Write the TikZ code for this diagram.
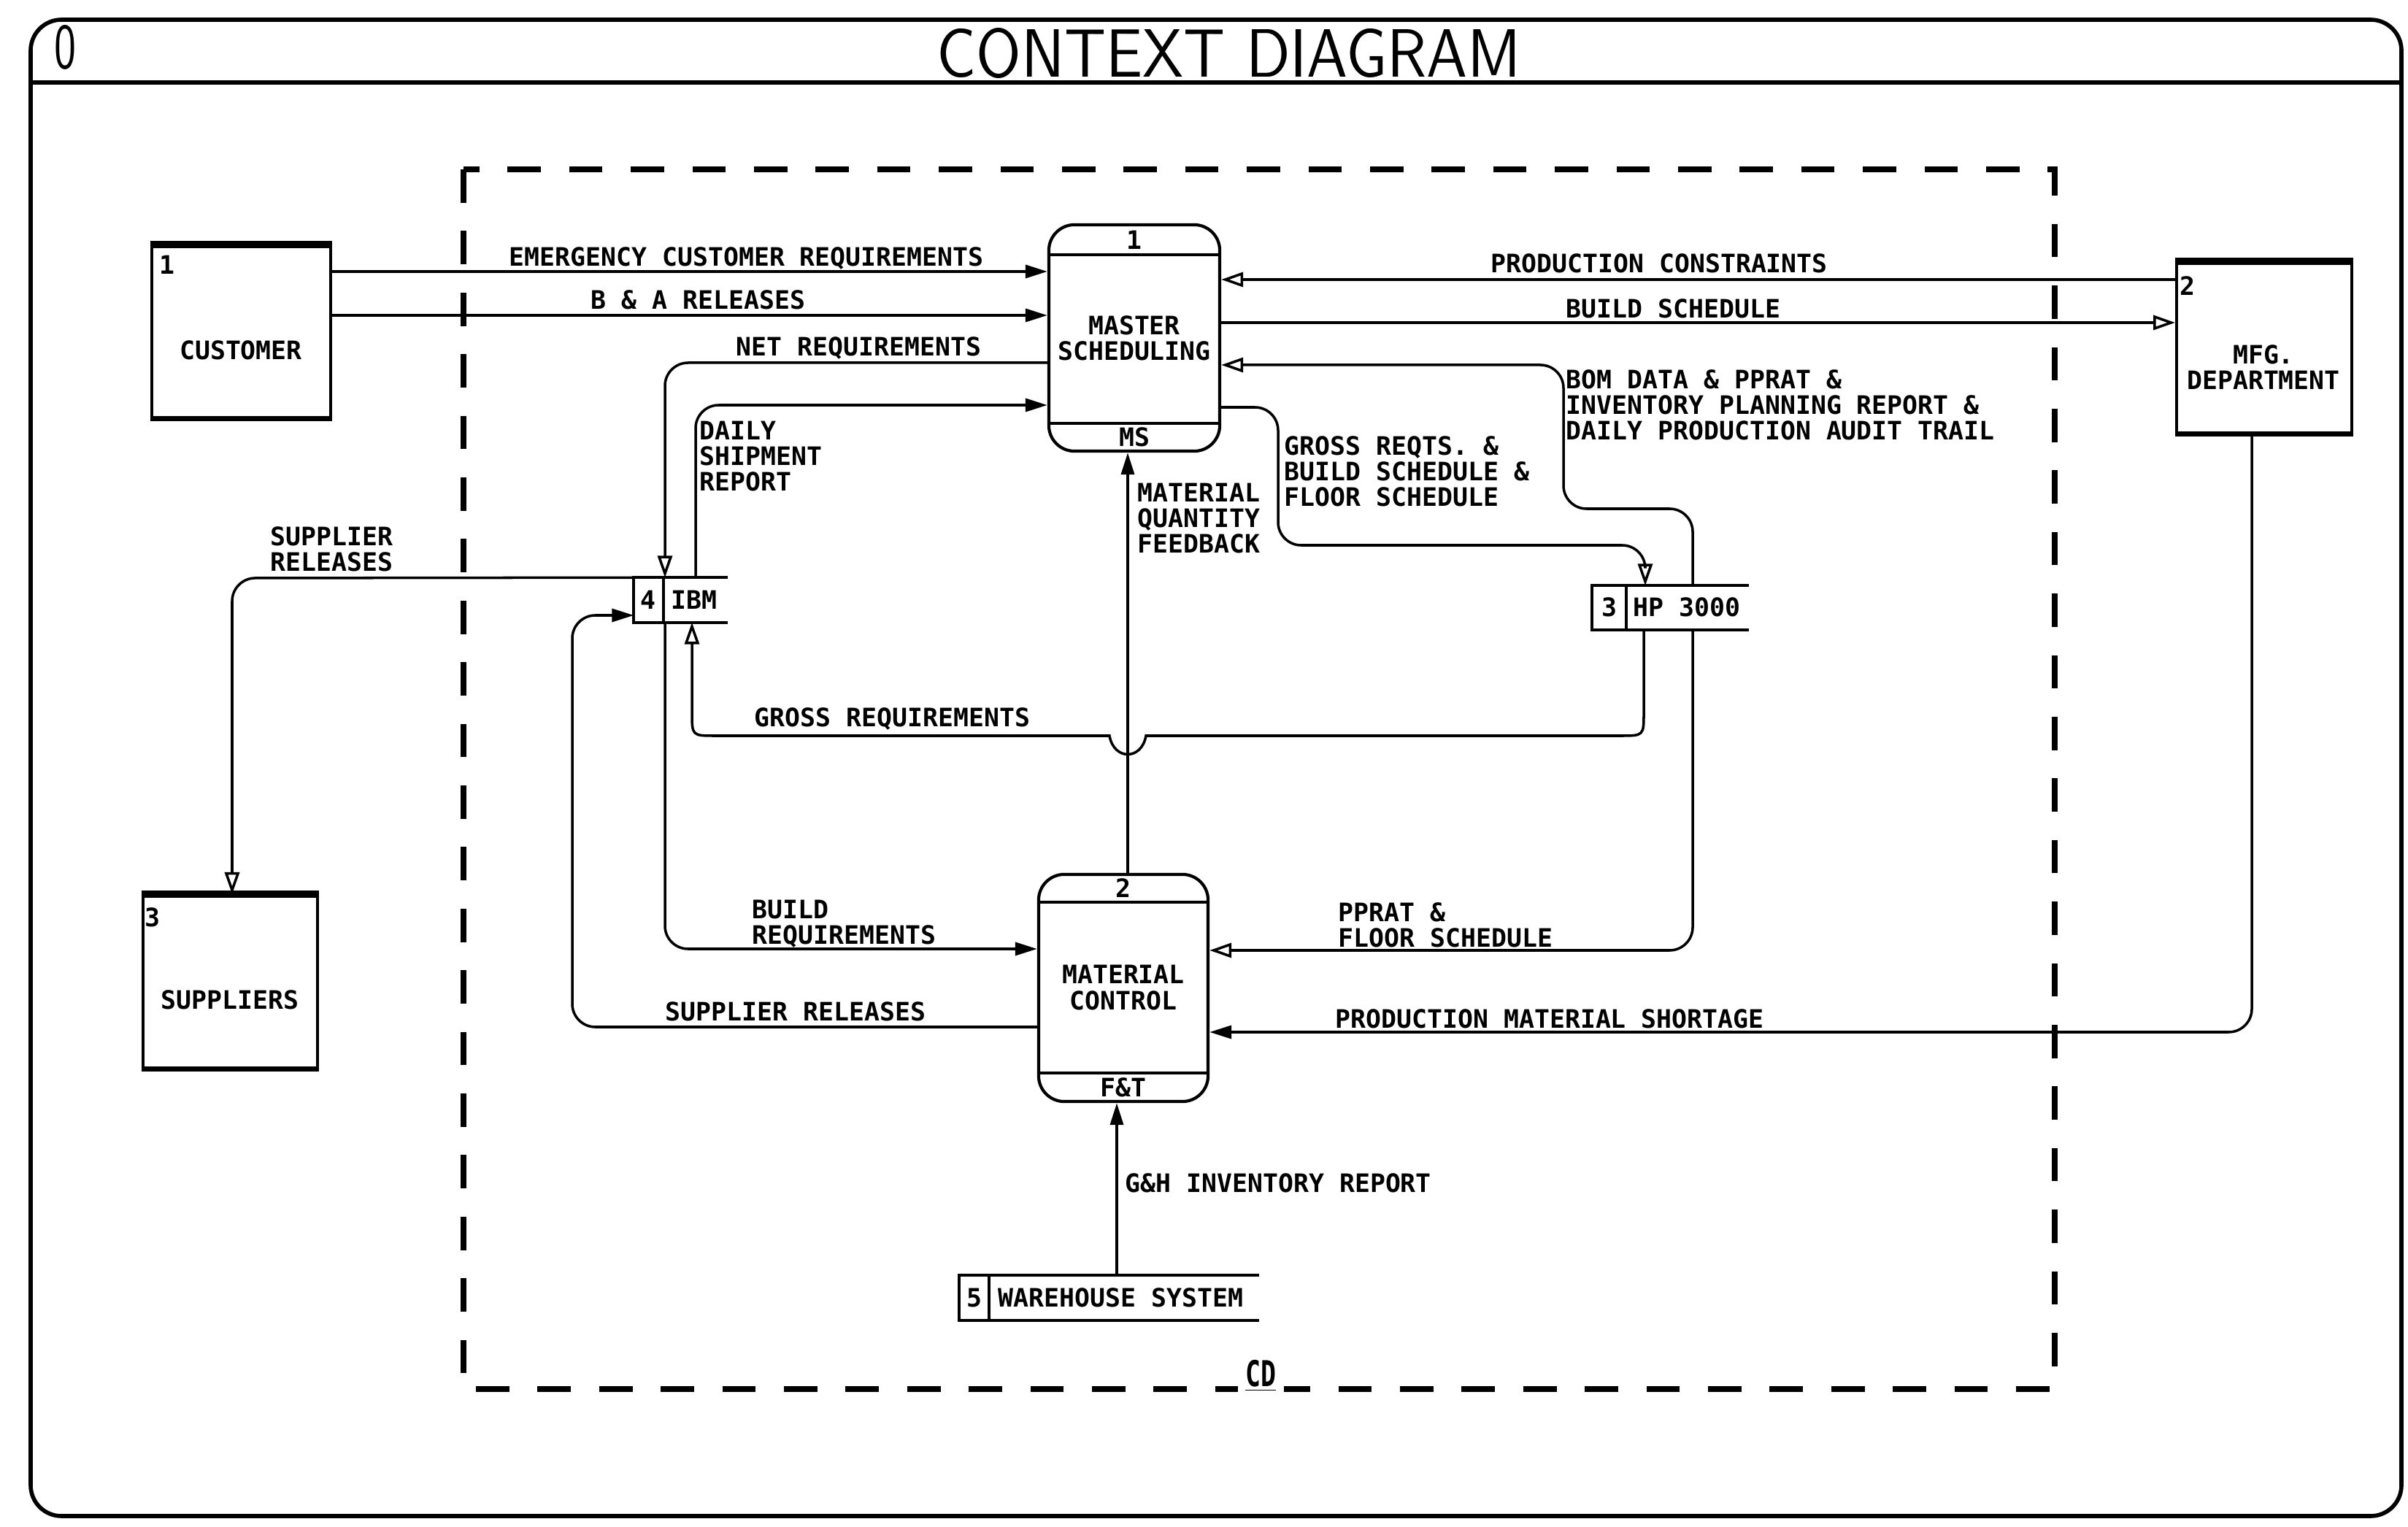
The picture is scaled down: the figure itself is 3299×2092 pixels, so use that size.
\documentclass[tikz,border=0pt]{standalone}
\usepackage{fontspec}
\setmonofont{DejaVu Sans Mono}
\usepackage{graphicx}
\usetikzlibrary{arrows.meta}
\begin{document}
\begin{tikzpicture}[x=0.01cm,y=-0.01cm,
  txt/.style={font=\ttfamily\bfseries\fontsize{9.9pt}{10pt}\selectfont, inner sep=0pt},
  lbl/.style={txt, align=left, anchor=north west},
  btxt/.style={font=\ttfamily\bfseries\fontsize{9.9pt}{10pt}\selectfont, inner sep=0pt, align=center},
  entity/.style={draw, line width=1.1pt, inner sep=0pt},
  process/.style={draw, line width=1.2pt, rounded corners=10pt, inner sep=0pt},
  band/.style={line width=1.2pt},
  store/.style={inner sep=0pt},
  storeline/.style={line width=1.2pt},
  flowf/.style={line width=1pt, -{Triangle[length=0.3cm,width=0.18cm]}},
  flowo/.style={line width=1pt, -{Triangle[open,length=0.3cm,width=0.2cm]}},
  boundary/.style={line width=2.4pt, dash pattern=on 13pt off 11pt},
  frame/.style={line width=1.6pt},
]
\useasboundingbox (0,0) rectangle (3299,2092);

% outer frame and title
\draw[frame, rounded corners=12pt] (42,27) rectangle (3290,2077);
\draw[frame] (42,113) -- (3290,113);
\node[inner sep=0pt] (zero) at (90,65) {\resizebox{0.3cm}{0.59cm}{\sffamily 0}};
\node[inner sep=0pt] (title) at (1684,73) {\resizebox{8cm}{0.67cm}{\sffamily CONTEXT DIAGRAM}};

% system boundary
\draw[boundary] (635,232) rectangle (2815,1903);
\node[btxt, fill=white, inner sep=3pt, anchor=base] (cd) at (1727,1899) {\underline{\scalebox{1}[1.4]{CD}}};

% external entities
\node[entity, minimum width=2.45cm, minimum height=2.35cm] (cust) at (330.5,454.5) {};
\draw[line width=2.6pt] (cust.north west) -- (cust.north east);
\draw[line width=1.6pt] (cust.south west) -- (cust.south east);
\node[btxt] (custno) at (229,363) {1};
\node[btxt] (custname) at (330,480) {CUSTOMER};

\node[entity, minimum width=2.39cm, minimum height=2.36cm] (sup) at (315.5,1345) {};
\draw[line width=2.6pt] (sup.north west) -- (sup.north east);
\draw[line width=1.6pt] (sup.south west) -- (sup.south east);
\node[btxt] (supno) at (209,1257) {3};
\node[btxt] (supname) at (315,1370) {SUPPLIERS};

\node[entity, minimum width=2.40cm, minimum height=2.33cm] (mfg) at (3102,476.5) {};
\draw[line width=2.6pt] (mfg.north west) -- (mfg.north east);
\draw[line width=1.6pt] (mfg.south west) -- (mfg.south east);
\node[btxt] (mfgno) at (2997,392) {2};
\node[btxt, anchor=north] (mfgname) at (3101,472) {MFG.\\DEPARTMENT};

% processes
\node[process, minimum width=2.34cm, minimum height=3.10cm] (ms) at (1554,463) {};
\draw[band] (ms.west |- 0,349) -- (ms.east |- 0,349);
\draw[band] (ms.west |- 0,580) -- (ms.east |- 0,580);
\node[txt] (msno) at (1554,329) {1};
\node[txt] (msid) at (1554,599) {MS};
\node[txt, align=center] (msname) at (1554,463) {MASTER\\SCHEDULING};

\node[process, minimum width=2.32cm, minimum height=3.11cm] (mc) at (1539,1353.5) {};
\draw[band] (mc.west |- 0,1236) -- (mc.east |- 0,1236);
\draw[band] (mc.west |- 0,1470) -- (mc.east |- 0,1470);
\node[txt] (mcno) at (1539,1217) {2};
\node[txt] (mcid) at (1539,1490) {F\&T};
\node[txt, align=center] (mcname) at (1539,1353) {MATERIAL\\CONTROL};

% data stores
\node[store, minimum width=1.27cm, minimum height=0.6cm] (ibm) at (932.5,822) {};
\draw[storeline] (ibm.north east) -- (ibm.north west) -- (ibm.south west) -- (ibm.south east);
\draw[line width=1pt] (ibm.north -| 909,0) -- (ibm.south -| 909,0);
\node[txt] (ibmno) at (888,822) {4};
\node[txt] (ibmname) at (951,822) {IBM};

\node[store, minimum width=2.13cm, minimum height=0.59cm] (hp) at (2288.5,832.5) {};
\draw[storeline] (hp.north east) -- (hp.north west) -- (hp.south west) -- (hp.south east);
\draw[line width=1pt] (hp.north -| 2228,0) -- (hp.south -| 2228,0);
\node[txt] (hpno) at (2205,832) {3};
\node[txt, anchor=west] (hpname) at (2237,832) {HP 3000};

\node[store, minimum width=4.09cm, minimum height=0.6cm] (wh) at (1519.5,1778) {};
\draw[storeline] (wh.north east) -- (wh.north west) -- (wh.south west) -- (wh.south east);
\draw[line width=1pt] (wh.north -| 1355,0) -- (wh.south -| 1355,0);
\node[txt] (whno) at (1335,1778) {5};
\node[txt, anchor=west] (whname) at (1367,1778) {WAREHOUSE SYSTEM};

% flows
\draw[flowf] (cust.east |- 0,372) -- (ms.west |- 0,372);
\node[lbl] (l-emerg) at (697,338) {EMERGENCY CUSTOMER REQUIREMENTS};

\draw[flowf] (cust.east |- 0,432) -- (ms.west |- 0,432);
\node[lbl] (l-ba) at (809,397) {B \& A RELEASES};

\draw[flowo, rounded corners=9pt] (ms.west |- 0,497) -- (911,497) -- (ibm.north -| 911,0);
\node[lbl] (l-net) at (1008,461) {NET REQUIREMENTS};

\draw[flowf, rounded corners=9pt] (ibm.north -| 953,0) -- (953,555) -- (ms.west |- 0,555);
\node[lbl] (l-daily) at (958,576) {DAILY\\SHIPMENT\\REPORT};

\draw[flowo, rounded corners=9pt] (ibm.north west) -- (318,792) -- (sup.north -| 318,0);
\node[lbl] (l-supup) at (370,721) {SUPPLIER\\RELEASES};

\draw[flowf, rounded corners=9pt] (mc.west |- 0,1407) -- (784,1407) -- (784,843) -- (ibm.west |- 0,843);
\node[lbl] (l-suplow) at (911,1372) {SUPPLIER RELEASES};

\draw[flowf, rounded corners=9pt] (ibm.south -| 911,0) -- (911,1300) -- (mc.west |- 0,1300);
\node[lbl] (l-buildreq) at (1030,1232) {BUILD\\REQUIREMENTS};

\draw[flowo] (hp.south -| 2252,0) -- (2252,976) .. controls (2252,1008) .. (2220,1008)
  -- (1570,1008) .. controls (1564,1042) and (1526,1042) .. (1520,1008)
  -- (980,1008) .. controls (948,1008) .. (948,976) -- (ibm.south -| 948,0);
\node[lbl] (l-gross) at (1033,969) {GROSS REQUIREMENTS};

\draw[flowf] (mc.north -| 1545,0) -- (ms.south -| 1545,0);
\node[lbl] (l-mqf) at (1558,661) {MATERIAL\\QUANTITY\\FEEDBACK};

\draw[flowo] (mfg.west |- 0,383) -- (ms.east |- 0,383);
\node[lbl] (l-pc) at (2042,347) {PRODUCTION CONSTRAINTS};

\draw[flowo] (ms.east |- 0,442) -- (mfg.west |- 0,442);
\node[lbl] (l-bs) at (2145,409) {BUILD SCHEDULE};

\draw[flowo, rounded corners=9pt] (hp.north -| 2319,0) -- (2319,697) -- (2142,697) -- (2142,500) -- (ms.east |- 0,500);
\node[lbl] (l-bom) at (2145,506) {BOM DATA \& PPRAT \&\\INVENTORY PLANNING REPORT \&\\DAILY PRODUCTION AUDIT TRAIL};

\draw[flowo, rounded corners=9pt] (ms.east |- 0,558) -- (1751,558) -- (1751,747) -- (2254,747) -- (hp.north -| 2254,0);
\node[lbl] (l-grq) at (1759,597) {GROSS REQTS. \&\\BUILD SCHEDULE \&\\FLOOR SCHEDULE};

\draw[flowo, rounded corners=9pt] (hp.south -| 2319,0) -- (2319,1302) -- (mc.east |- 0,1302);
\node[lbl] (l-pprat) at (1833,1236) {PPRAT \&\\FLOOR SCHEDULE};

\draw[flowf, rounded corners=9pt] (mfg.south -| 3085,0) -- (3085,1414) -- (mc.east |- 0,1414);
\node[lbl] (l-pms) at (1829,1382) {PRODUCTION MATERIAL SHORTAGE};

\draw[flowf] (wh.north -| 1530,0) -- (mc.south -| 1530,0);
\node[lbl] (l-gh) at (1541,1607) {G\&H INVENTORY REPORT};
\end{tikzpicture}
\end{document}
